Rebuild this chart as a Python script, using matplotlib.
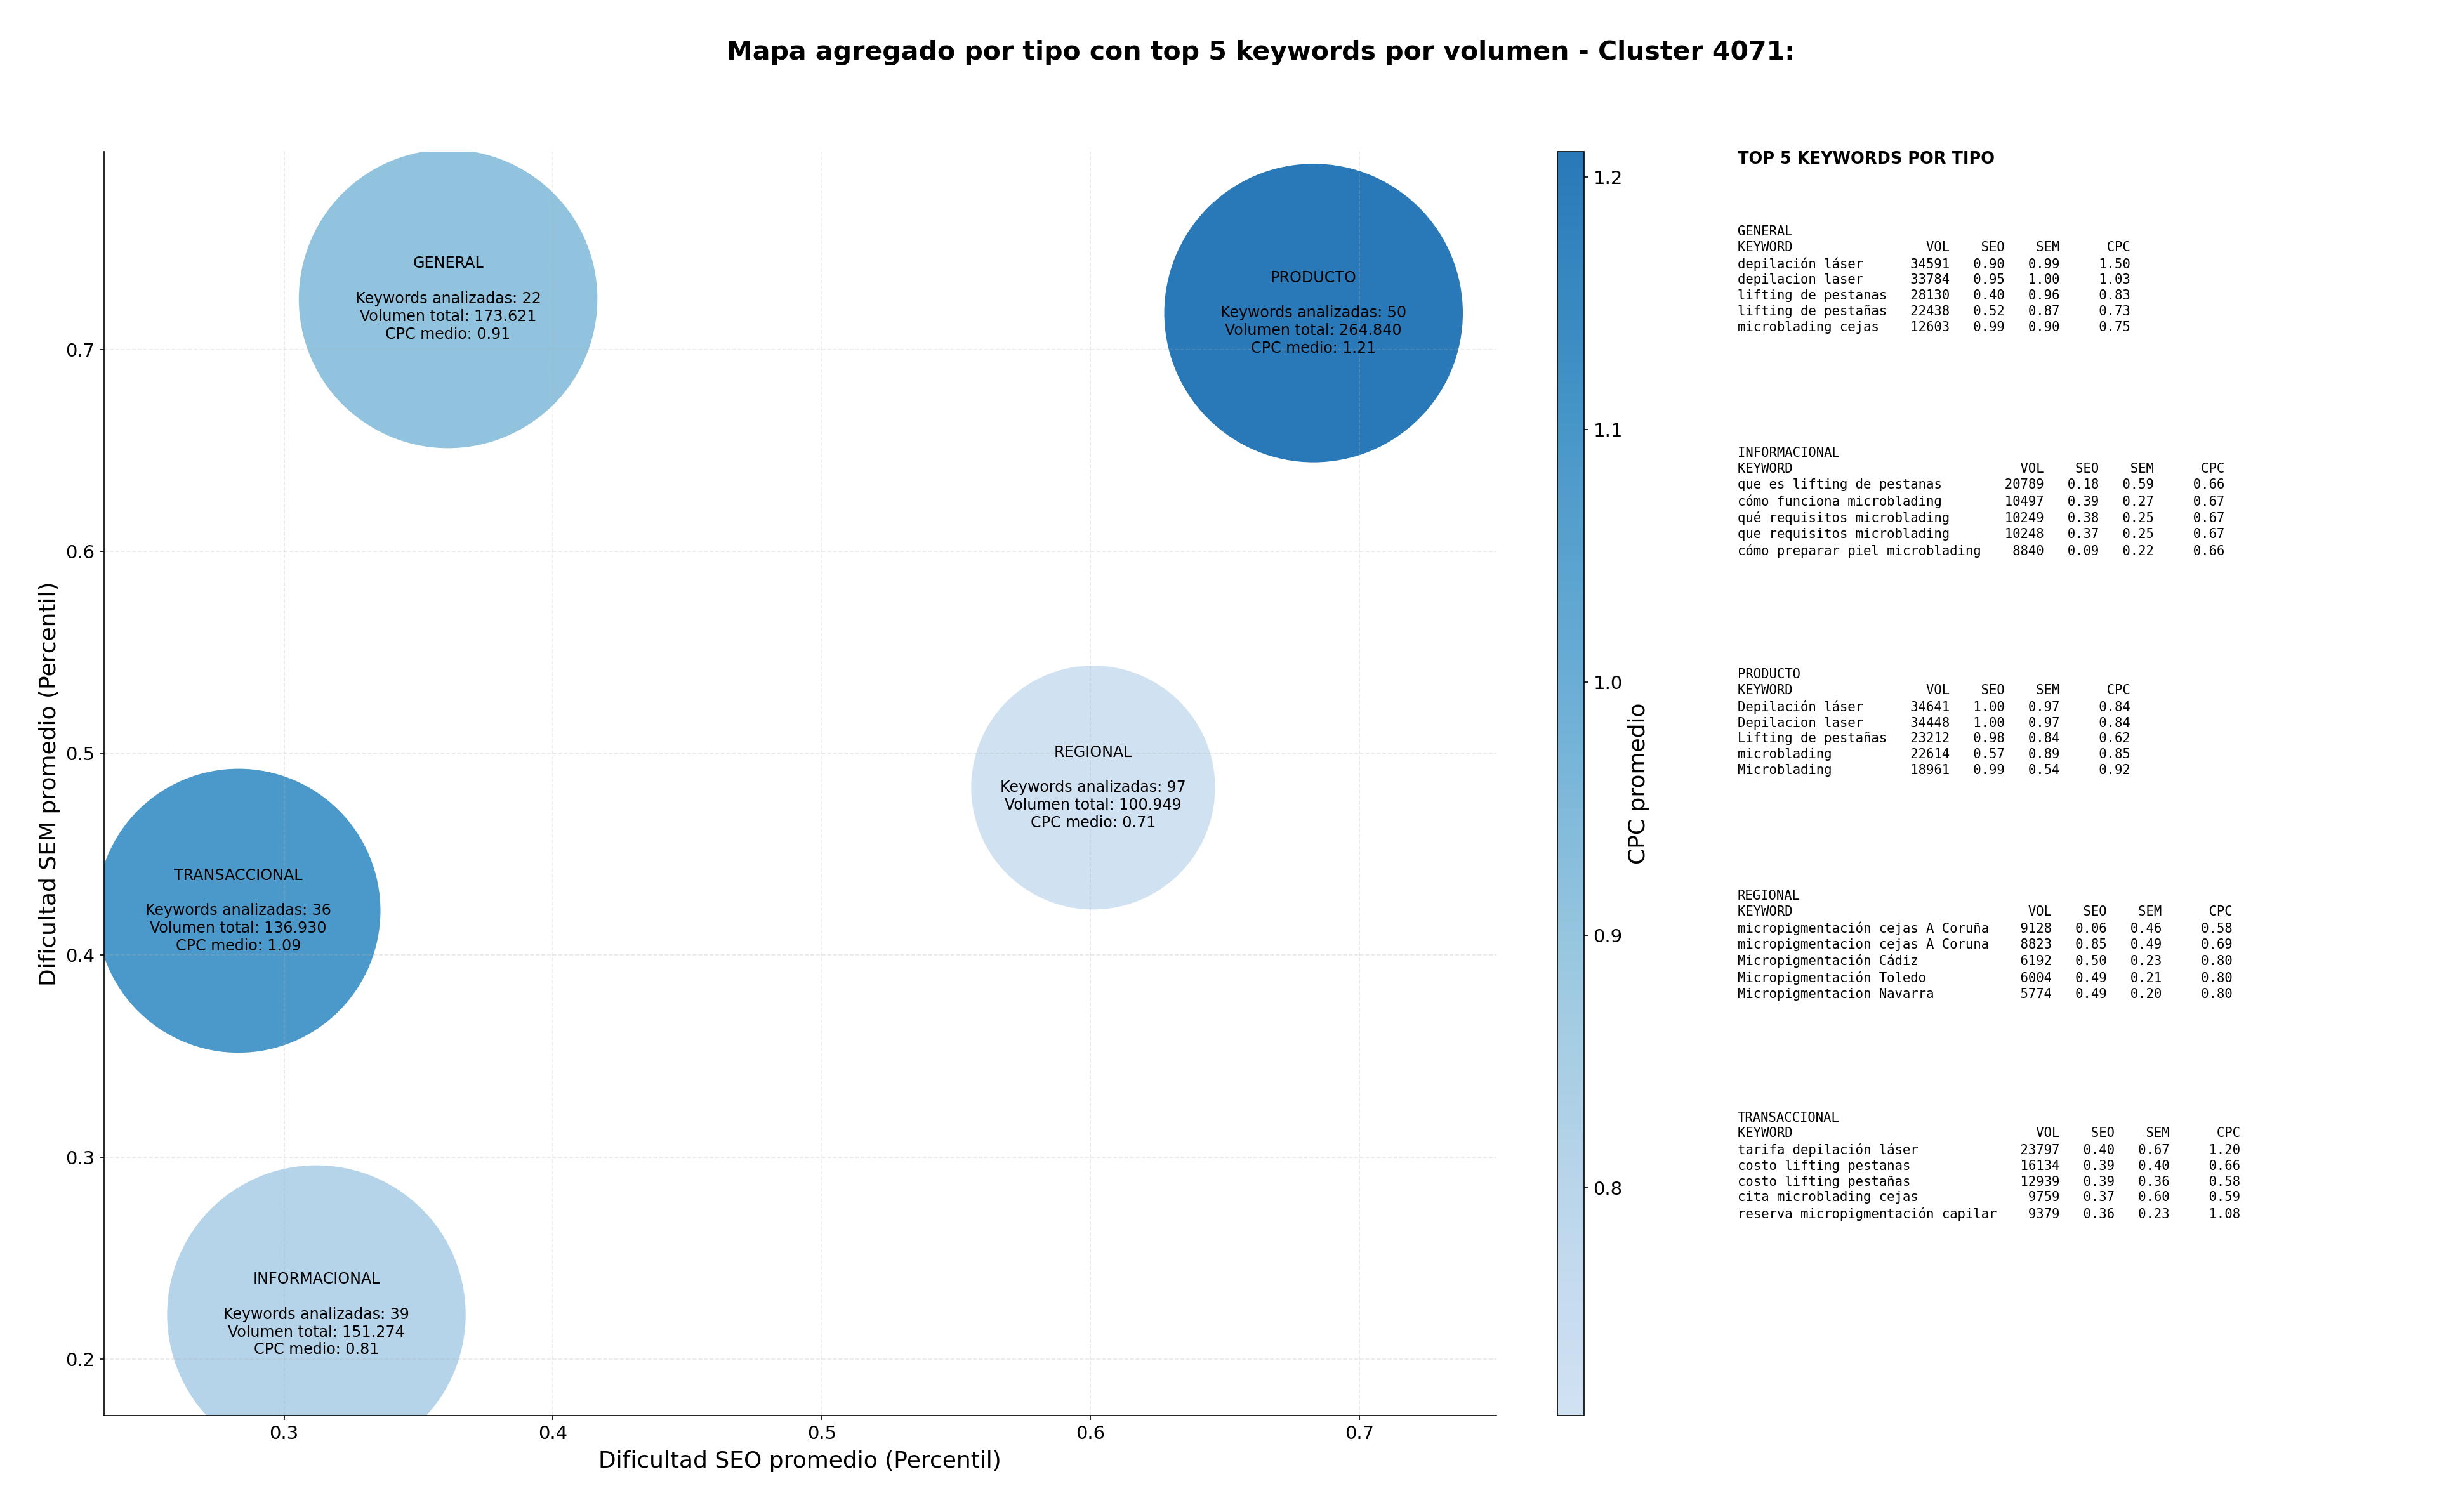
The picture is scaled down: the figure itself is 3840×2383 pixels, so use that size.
import numpy as np
import matplotlib
matplotlib.use("Agg")
import matplotlib.pyplot as plt
from matplotlib.colors import LinearSegmentedColormap, Normalize

# ---------------- data ----------------
tipos = ["GENERAL", "INFORMACIONAL", "PRODUCTO", "REGIONAL", "TRANSACCIONAL"]
seo_medio = [0.361, 0.312, 0.683, 0.601, 0.283]
sem_medio = [0.725, 0.222, 0.718, 0.483, 0.422]
n_keywords = [22, 39, 50, 97, 36]
volumen_total = [173621, 151274, 264840, 100949, 136930]
cpc_medio = [0.91, 0.81, 1.21, 0.71, 1.09]

top_keywords = {
    "GENERAL": ["depilación láser", "depilacion laser", "lifting de pestanas",
                "lifting de pestañas", "microblading cejas"],
    "INFORMACIONAL": ["que es lifting de pestanas", "cómo funciona microblading",
                      "qué requisitos microblading", "que requisitos microblading",
                      "cómo preparar piel microblading"],
    "PRODUCTO": ["Depilación láser", "Depilacion laser", "Lifting de pestañas",
                 "microblading", "Microblading"],
    "REGIONAL": ["micropigmentación cejas A Coruña", "micropigmentacion cejas A Coruna",
                 "Micropigmentación Cádiz", "Micropigmentación Toledo",
                 "Micropigmentacion Navarra"],
    "TRANSACCIONAL": ["tarifa depilación láser", "costo lifting pestanas",
                      "costo lifting pestañas", "cita microblading cejas",
                      "reserva micropigmentación capilar"],
}
top_vol = {
    "GENERAL": [34591, 33784, 28130, 22438, 12603],
    "INFORMACIONAL": [20789, 10497, 10249, 10248, 8840],
    "PRODUCTO": [34641, 34448, 23212, 22614, 18961],
    "REGIONAL": [9128, 8823, 6192, 6004, 5774],
    "TRANSACCIONAL": [23797, 16134, 12939, 9759, 9379],
}
top_seo = {
    "GENERAL": [0.90, 0.95, 0.40, 0.52, 0.99],
    "INFORMACIONAL": [0.18, 0.39, 0.38, 0.37, 0.09],
    "PRODUCTO": [1.00, 1.00, 0.98, 0.57, 0.99],
    "REGIONAL": [0.06, 0.85, 0.50, 0.49, 0.49],
    "TRANSACCIONAL": [0.40, 0.39, 0.39, 0.37, 0.36],
}
top_sem = {
    "GENERAL": [0.99, 1.00, 0.96, 0.87, 0.90],
    "INFORMACIONAL": [0.59, 0.27, 0.25, 0.25, 0.22],
    "PRODUCTO": [0.97, 0.97, 0.84, 0.89, 0.54],
    "REGIONAL": [0.46, 0.49, 0.23, 0.21, 0.20],
    "TRANSACCIONAL": [0.67, 0.40, 0.36, 0.60, 0.23],
}
top_cpc = {
    "GENERAL": [1.50, 1.03, 0.83, 0.73, 0.75],
    "INFORMACIONAL": [0.66, 0.67, 0.67, 0.67, 0.66],
    "PRODUCTO": [0.84, 0.84, 0.62, 0.85, 0.92],
    "REGIONAL": [0.58, 0.69, 0.80, 0.80, 0.80],
    "TRANSACCIONAL": [1.20, 0.66, 0.58, 0.59, 1.08],
}

# ---------------- figure ----------------
DPI = 150
fig = plt.figure(figsize=(3840 / DPI, 2383 / DPI), dpi=DPI)
ax = fig.add_axes([0.0427, 0.0638, 0.5713, 0.836])
cax = fig.add_axes([0.639, 0.0638, 0.011, 0.836])

base = plt.get_cmap("Blues")
cmap = LinearSegmentedColormap.from_list("blues_trunc", base(np.linspace(0.2, 0.72, 256)))
norm = Normalize(vmin=min(cpc_medio), vmax=max(cpc_medio))

vol = np.array(volumen_total, dtype=float)
sizes = np.clip(vol * 0.337, None, 51000)

sc = ax.scatter(seo_medio, sem_medio, s=sizes, c=cpc_medio, cmap=cmap, norm=norm,
                edgecolors="none", zorder=1)

for t, x, y, n, v, c in zip(tipos, seo_medio, sem_medio, n_keywords, volumen_total, cpc_medio):
    vtxt = f"{v:,}".replace(",", ".")
    ax.text(x, y, f"{t}\n\nKeywords analizadas: {n}\nVolumen total: {vtxt}\nCPC medio: {c:.2f}",
            ha="center", va="center", fontsize=11.4, zorder=3)

ax.set_xlim(0.233, 0.751)
ax.set_ylim(0.172, 0.798)
ax.set_xticks([0.3, 0.4, 0.5, 0.6, 0.7])
ax.set_yticks([0.2, 0.3, 0.4, 0.5, 0.6, 0.7])
ax.tick_params(labelsize=14)
ax.grid(True, linestyle="--", alpha=0.3)
ax.spines["top"].set_visible(False)
ax.spines["right"].set_visible(False)
ax.set_xlabel("Dificultad SEO promedio (Percentil)", fontsize=17.3, labelpad=6)
ax.set_ylabel("Dificultad SEM promedio (Percentil)", fontsize=17.3)

cb = fig.colorbar(sc, cax=cax)
cb.set_label("CPC promedio", fontsize=17.3)
cb.ax.tick_params(labelsize=14)

fig.text(0.5175, 0.965, "Mapa agregado por tipo con top 5 keywords por volumen - Cluster 4071:",
         ha="center", va="center", fontsize=19.7, fontweight="bold")

# ---------------- right panel ----------------
fig.text(0.713, 0.9, "TOP 5 KEYWORDS POR TIPO", ha="left", va="top",
         fontsize=12.3, fontweight="bold")
y0 = 0.851
dy = 0.1465
for i, t in enumerate(tipos):
    kws = top_keywords[t]
    w = max(len(k) for k in kws)
    lines = [t, f"{'KEYWORD':<{w}}{'VOL':>8}{'SEO':>7}{'SEM':>7}{'CPC':>9}"]
    for k, v, s1, s2, cp in zip(kws, top_vol[t], top_seo[t], top_sem[t], top_cpc[t]):
        lines.append(f"{k:<{w}}{v:>8}{s1:>7.2f}{s2:>7.2f}{cp:>9.2f}")
    fig.text(0.713, y0 - i * dy, "\n".join(lines), ha="left", va="top",
             fontsize=9.9, family="DejaVu Sans Mono", linespacing=1.3)

fig.savefig("out.png", dpi=DPI)
